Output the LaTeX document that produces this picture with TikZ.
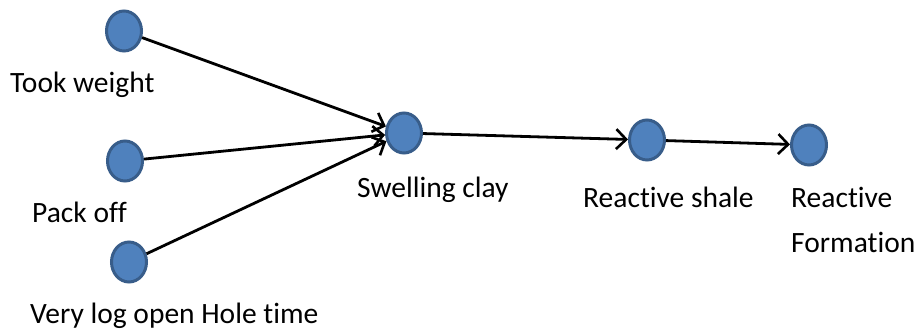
\documentclass[tikz,border=0pt]{standalone}
\usepackage{fontspec}
\setmainfont{Carlito}[RawFeature=-liga]
\usetikzlibrary{shapes.geometric,arrows.meta}
\definecolor{dotfill}{HTML}{4F81BD}
\definecolor{dotline}{HTML}{385D8A}
\tikzset{
  dot/.style={ellipse,draw=dotline,fill=dotfill,line width=3pt,minimum width=35pt,minimum height=40pt,inner sep=0pt},
  lbl/.style={anchor=base west,inner sep=0pt,font=\fontsize{29.5}{45}\selectfont,align=left},
  link/.style={line width=2.8pt,-{Straight Barb[length=10pt,width=20pt,line width=2.6pt]}}
}
\begin{document}
\begin{tikzpicture}[x=1pt,y=-1pt]
\useasboundingbox (0,0) rectangle (918,334);
\node[dot] (tw) at (124,31) {};
\node[dot] (po) at (125,161) {};
\node[dot] (vl) at (129,262) {};
\node[dot] (sc) at (404,133) {};
\node[dot] (rs) at (647,140) {};
\node[dot] (rf) at (809,145) {};
\node[lbl] (twl) at (10,93) {Took weight};
\node[lbl] (pol) at (32,222) {Pack off};
\node[lbl] (vll) at (30,323) {Very log open Hole time};
\node[lbl] (scl) at (357,197) {Swelling clay};
\node[lbl] (rsl) at (583,207) {Reactive shale};
\node[lbl] (rfl) at (791,252) {Reactive\\Formation};
\draw[link] (tw) -- (sc);
\draw[link] (po) -- (sc);
\draw[link] (vl) -- (sc);
\draw[link] (sc) -- (rs);
\draw[link] (rs) -- (rf);
\end{tikzpicture}
\end{document}
